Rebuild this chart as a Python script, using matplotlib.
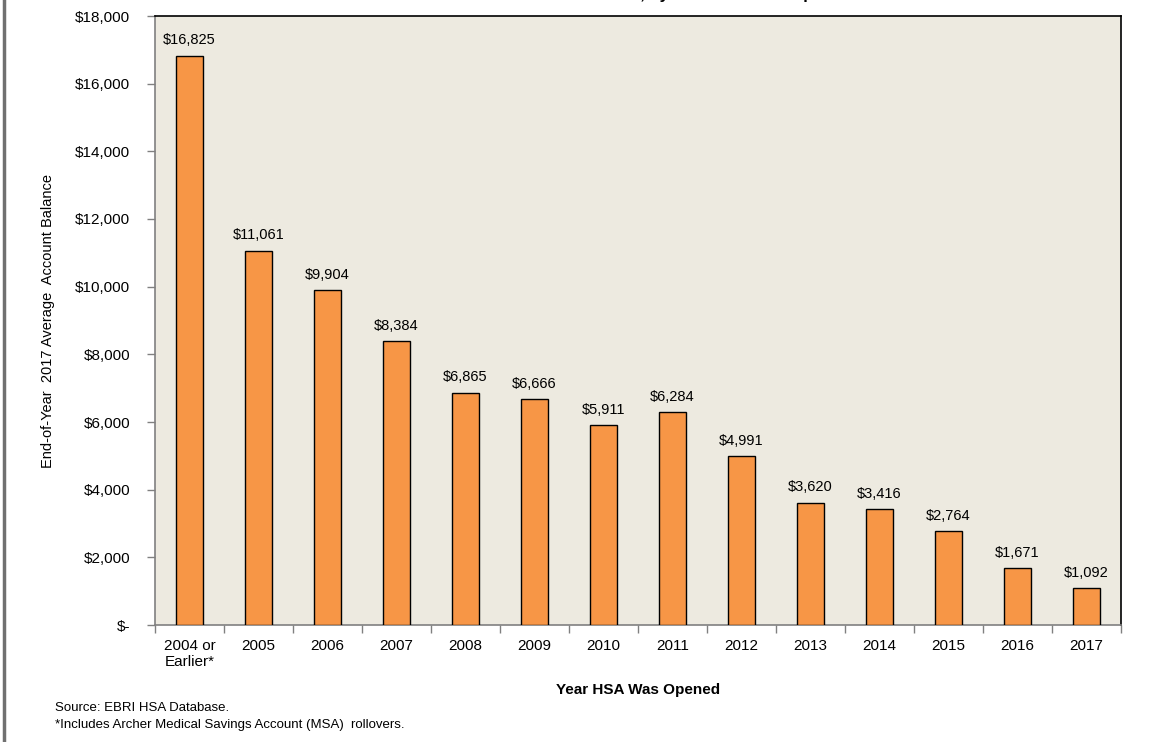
import matplotlib.pyplot as plt
from matplotlib.lines import Line2D

# values
years = ["2004 or\nEarlier*", "2005", "2006", "2007", "2008", "2009", "2010",
         "2011", "2012", "2013", "2014", "2015", "2016", "2017"]
balances = [16825, 11061, 9904, 8384, 6865, 6666, 5911,
            6284, 4991, 3620, 3416, 2764, 1671, 1092]
y_ticks = [0, 2000, 4000, 6000, 8000, 10000, 12000, 14000, 16000, 18000]

plt.rcParams["font.family"] = ["Liberation Sans", "DejaVu Sans"]

fig = plt.figure(figsize=(11.54, 7.42), dpi=100)
ax = fig.add_axes([155 / 1154, 1 - 625 / 742, 966 / 1154, 609 / 742])
ax.set_facecolor("#EDEAE0")

x = list(range(len(years)))
ax.bar(x, balances, width=0.4, color="#F79646", edgecolor="black", linewidth=1.0, zorder=3)

for xi, v in zip(x, balances):
    ax.annotate(f"${v:,}", (xi, v), xytext=(0, 6), textcoords="offset points",
                ha="center", va="bottom", fontsize=10.5)

ax.set_xlim(-0.5, len(years) - 0.5)
ax.set_ylim(0, 18000)
ax.set_yticks(y_ticks)
ax.set_yticklabels(["$-"] + [f"${t:,}" for t in y_ticks[1:]], fontsize=11)

# ticks between categories, labels centred under bars
ax.set_xticks([i - 0.5 for i in range(len(years) + 1)])
ax.set_xticklabels([])
ax.set_xticks(x, minor=True)
ax.set_xticklabels(years, minor=True, fontsize=11, va="top")
ax.tick_params(axis="x", which="minor", length=0, pad=10)
ax.tick_params(axis="x", which="major", length=6, color="#808080", width=1)
ax.tick_params(axis="y", length=6, color="#808080", width=1, pad=12)

ax.spines["left"].set_color("#808080")
ax.spines["bottom"].set_color("#808080")
ax.spines["top"].set_color("black")
ax.spines["right"].set_color("black")
for s in ax.spines.values():
    s.set_linewidth(1.2)

ax.set_ylabel("End-of-Year  2017 Average  Account Balance", fontsize=10.5)
ax.yaxis.set_label_coords(-0.104, 0.5)
fig.text(638 / 1154, 1 - 690 / 742, "Year HSA Was Opened", ha="center", va="center",
         fontsize=11, fontweight="bold")

# title is mostly cut off at the top of the image, as in the reference
fig.text(660 / 1154, 1.0 + 1 / 742, "HSA Account Balance, by Year HSA Was Opened",
         ha="center", va="baseline", fontsize=12, fontweight="bold")

fig.text(55 / 1154, 1 - 708 / 742, "Source: EBRI HSA Database.", fontsize=9.5, va="center")
fig.text(55 / 1154, 1 - 725 / 742, "*Includes Archer Medical Savings Account (MSA)  rollovers.",
         fontsize=9.5, va="center")

# grey border on the left edge
fig.add_artist(Line2D([4 / 1154, 4 / 1154], [0, 1], color="#707070", linewidth=2.5,
                      transform=fig.transFigure))

fig.savefig("out.png", dpi=100)
